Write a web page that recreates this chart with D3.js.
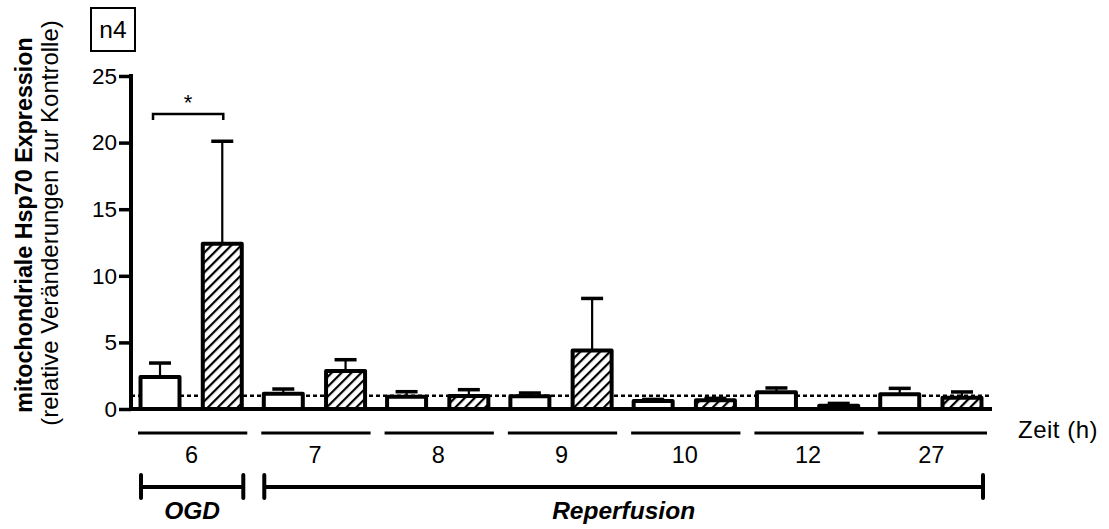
<!DOCTYPE html>
<html>
<head>
<meta charset="utf-8">
<script src="https://cdn.jsdelivr.net/npm/d3@7"></script>
<style>
  html, body { margin: 0; padding: 0; background: #fff; }
  svg { display: block; font-family: "Liberation Sans", Arial, sans-serif; }
</style>
</head>
<body>
<svg id="chart" width="1109" height="529"></svg>
<script>
// ---- data ----
const categories = ["6", "7", "8", "9", "10", "12", "27"];
const series = ["Kontrolle", "OGD"];
const controlMean = [2.4, 1.15, 0.92, 0.95, 0.6, 1.25, 1.1];
const controlUpper = [3.45, 1.5, 1.3, 1.2, 0.72, 1.58, 1.55];
const ogdMean = [12.4, 2.85, 0.98, 4.4, 0.65, 0.25, 0.85];
const ogdUpper = [20.1, 3.7, 1.45, 8.3, 0.8, 0.42, 1.28];
const yTicks = [0, 5, 10, 15, 20, 25];
const referenceLevel = 1;
const phases = [
  { label: "OGD", from: "6", to: "6" },
  { label: "Reperfusion", from: "7", to: "27" }
];
const significance = { category: "6", label: "*", level: 22 };

// ---- layout ----
const svg = d3.select("#chart");
const x = d3.scaleBand().domain(categories).range([131, 994]).padding(0);
const y = d3.scaleLinear().domain([0, 25]).range([409, 76]);
const sub = d3.scalePoint().domain(series).range([-1.5, x.bandwidth() - 1.5]).padding(0.49);
const barW = 39;

// hatch pattern
const defs = svg.append("defs");
const pat = defs.append("pattern")
  .attr("id", "hatch").attr("patternUnits", "userSpaceOnUse")
  .attr("width", 7).attr("height", 7)
  .attr("patternTransform", "rotate(45)");
pat.append("rect").attr("width", 7).attr("height", 7).attr("fill", "#fff");
pat.append("line").attr("x1", 1).attr("y1", 0).attr("x2", 1).attr("y2", 7)
  .attr("stroke", "#000").attr("stroke-width", 2.4);

const rows = [];
categories.forEach((c, i) => {
  rows.push({ cat: c, s: series[0], v: controlMean[i], u: controlUpper[i] });
  rows.push({ cat: c, s: series[1], v: ogdMean[i], u: ogdUpper[i] });
});
const cx = d => x(d.cat) + sub(d.s);

// error bars (behind bars)
const eb = svg.append("g").attr("class", "errors");
eb.selectAll("line.v").data(rows).join("line").attr("class", "v")
  .attr("x1", cx).attr("x2", cx)
  .attr("y1", d => y(d.v)).attr("y2", d => y(d.u))
  .attr("stroke", "#000").attr("stroke-width", 2.2);
eb.selectAll("line.cap").data(rows).join("line").attr("class", "cap")
  .attr("x1", d => cx(d) - 11).attr("x2", d => cx(d) + 11)
  .attr("y1", d => y(d.u)).attr("y2", d => y(d.u))
  .attr("stroke", "#000").attr("stroke-width", 3.5);

// reference dashed line
svg.append("line")
  .attr("x1", 131).attr("x2", 992)
  .attr("y1", y(referenceLevel)).attr("y2", y(referenceLevel))
  .attr("stroke", "#000").attr("stroke-width", 2.5)
  .attr("stroke-dasharray", "4,3");

// bars
svg.append("g").selectAll("rect").data(rows).join("rect")
  .attr("x", d => cx(d) - barW / 2)
  .attr("width", barW)
  .attr("y", d => y(d.v))
  .attr("height", d => y(0) - y(d.v))
  .attr("fill", d => d.s === series[0] ? "#fff" : "url(#hatch)")
  .attr("stroke", "#000").attr("stroke-width", 4)
  .attr("stroke-linejoin", "round");

// y axis
const yAxis = d3.axisLeft(y).tickValues(yTicks).tickSize(12).tickPadding(2);
const ga = svg.append("g").attr("transform", "translate(131,0)").call(yAxis);
ga.select(".domain").remove();
ga.selectAll(".tick line").attr("stroke", "#000").attr("stroke-width", 3.5);
ga.selectAll(".tick text").attr("font-size", 22.5).attr("fill", "#000")
  .attr("font-family", "Liberation Sans, Arial, sans-serif");
svg.append("line").attr("x1", 131).attr("x2", 131).attr("y1", 74).attr("y2", 411)
  .attr("stroke", "#000").attr("stroke-width", 4);

// x baseline
svg.append("line").attr("x1", 129).attr("x2", 992).attr("y1", y(0)).attr("y2", y(0))
  .attr("stroke", "#000").attr("stroke-width", 4);

// category lines and labels
const gc = svg.append("g");
gc.selectAll("line").data(categories).join("line")
  .attr("x1", d => x(d) + 7).attr("x2", d => x(d) + x.bandwidth() - 7)
  .attr("y1", 433).attr("y2", 433)
  .attr("stroke", "#000").attr("stroke-width", 3);
gc.selectAll("text").data(categories).join("text")
  .attr("x", d => x(d) + x.bandwidth() / 2 - 1).attr("y", 463)
  .attr("text-anchor", "middle").attr("font-size", 23.5).text(d => d);

svg.append("text").attr("x", 1018).attr("y", 438).attr("font-size", 24)
  .attr("letter-spacing", 0.5).text("Zeit (h)");

// phase brackets
phases.forEach(p => {
  const x0 = x(p.from) + 10, x1 = x(p.to) + x.bandwidth() - 11;
  const g = svg.append("g");
  g.append("line").attr("x1", x0).attr("x2", x1).attr("y1", 487).attr("y2", 487)
    .attr("stroke", "#000").attr("stroke-width", 4);
  [x0, x1].forEach(xx => g.append("line").attr("x1", xx).attr("x2", xx)
    .attr("y1", 475).attr("y2", 498).attr("stroke", "#000").attr("stroke-width", 4)
    .attr("stroke-linecap", "round"));
  g.append("text").attr("x", (x0 + x1) / 2).attr("y", 519)
    .attr("text-anchor", "middle").attr("font-size", 24.5)
    .attr("font-weight", "bold").attr("font-style", "italic").text(p.label);
});

// significance bracket
{
  const c = significance.category;
  const xa = x(c) + sub(series[0]) - 7, xb = x(c) + sub(series[1]) + 1;
  const yy = y(significance.level) - 2;
  svg.append("path")
    .attr("d", `M${xa},${yy + 6}V${yy}H${xb}V${yy + 6}`)
    .attr("fill", "none").attr("stroke", "#000").attr("stroke-width", 2.5);
  svg.append("text").attr("x", (xa + xb) / 2).attr("y", yy - 4)
    .attr("text-anchor", "middle").attr("font-size", 22).text(significance.label);
}

// n4 box
svg.append("rect").attr("x", 91).attr("y", 8).attr("width", 44).attr("height", 43)
  .attr("fill", "none").attr("stroke", "#000").attr("stroke-width", 2);
svg.append("text").attr("x", 113).attr("y", 38).attr("text-anchor", "middle")
  .attr("font-size", 24.5).text("n4");

// y title
svg.append("text").attr("transform", "translate(32,225) rotate(-90)")
  .attr("text-anchor", "middle").attr("font-size", 23.3).attr("font-weight", "bold")
  .text("mitochondriale Hsp70 Expression");
svg.append("text").attr("transform", "translate(58,223) rotate(-90)")
  .attr("text-anchor", "middle").attr("font-size", 24)
  .text("(relative Veränderungen zur Kontrolle)");
</script>
</body>
</html>
